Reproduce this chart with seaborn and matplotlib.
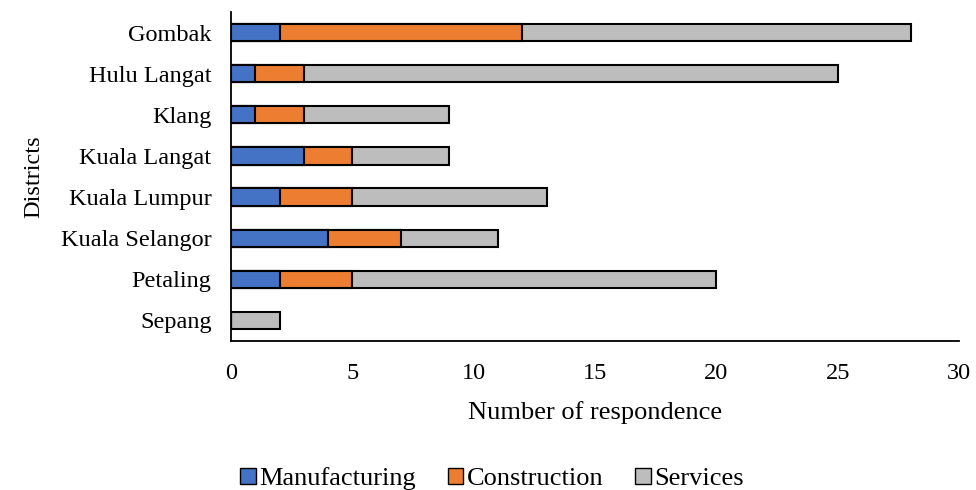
import numpy as np
import pandas as pd
import matplotlib
matplotlib.use("Agg")
import matplotlib.pyplot as plt
import seaborn as sns
from matplotlib.patches import Patch

districts = ["Gombak", "Hulu Langat", "Klang", "Kuala Langat", "Kuala Lumpur",
             "Kuala Selangor", "Petaling", "Sepang"]
manufacturing = [2, 1, 1, 3, 2, 4, 2, 0]
construction = [10, 2, 2, 2, 3, 3, 3, 0]
services = [16, 22, 6, 4, 8, 4, 15, 2]

sectors = ["Manufacturing", "Construction", "Services"]
colors = ["#4472C4", "#ED7D31", "#BDBDBD"]

sns.set_theme(style="white")
plt.rcParams['font.family'] = ['Liberation Serif', 'DejaVu Serif']
plt.rcParams['text.color'] = 'black'
plt.rcParams['xtick.color'] = 'black'
plt.rcParams['ytick.color'] = 'black'
plt.rcParams['axes.labelcolor'] = 'black'

df = pd.DataFrame({"district": districts, "Manufacturing": manufacturing,
                   "Construction": construction, "Services": services})
df["m"] = df["Manufacturing"]
df["mc"] = df["m"] + df["Construction"]
df["mcs"] = df["mc"] + df["Services"]

fig = plt.figure(figsize=(9.76, 4.9), dpi=100)
ax = fig.add_axes([0.2367, 0.304, 0.746, 0.6715])

# stacked: draw cumulative totals back to front
for col, c in [("mcs", colors[2]), ("mc", colors[1]), ("m", colors[0])]:
    sns.barplot(data=df, y="district", x=col, orient="h", color=c, width=0.42,
                edgecolor="black", linewidth=1.5, ax=ax, saturation=1)

ax.set_xlim(0, 30)
ax.set_ylim(7.5, -0.5)
ax.set_xticks(np.arange(0, 31, 5))
ax.tick_params(axis="both", length=0, labelsize=17.5)
ax.tick_params(axis="y", pad=14)
ax.tick_params(axis="x", pad=16)
for s in ["top", "right"]:
    ax.spines[s].set_visible(False)
for s in ["left", "bottom"]:
    ax.spines[s].set_color("black")
    ax.spines[s].set_linewidth(1.3)
ax.set_xlabel("Number of respondence", fontsize=19, labelpad=12)
ax.set_ylabel("Districts", fontsize=17.5, labelpad=12)

handles = [Patch(facecolor=c, edgecolor="black", linewidth=1.0, label=s)
           for s, c in zip(sectors, colors)]
fig.legend(handles=handles, loc="center", bbox_to_anchor=(0.504, 0.023), ncol=3,
           frameon=False, fontsize=19, handlelength=0.6, handleheight=0.6,
           handletextpad=0.12, columnspacing=1.2)

fig.savefig("out.png", dpi=100)
